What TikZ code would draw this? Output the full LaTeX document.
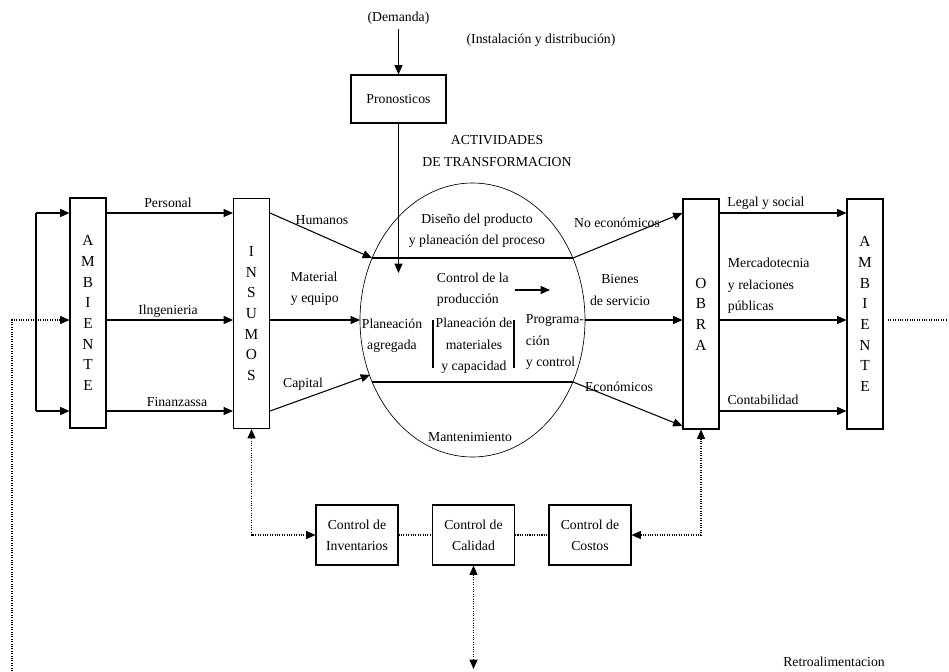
\documentclass[tikz,border=0pt]{standalone}
\usepackage{fontspec}
\setmainfont{Liberation Serif}
\usetikzlibrary{arrows.meta,shapes.geometric}
\tikzset{
  caja/.style={draw, line width=0.8pt, align=center, inner sep=1pt},
  letras/.style={caja, minimum width=27pt, minimum height=172.5pt, font=\fontsize{11.5}{15.5}\selectfont},
  control/.style={caja, minimum width=61.5pt, minimum height=45pt},
  retro/.style={densely dotted, line width=0.8pt},
}
\begin{document}
\begin{tikzpicture}[x=0.75pt, y=-0.75pt, line width=0.8pt,
    font=\fontsize{10.3}{16}\selectfont, >={Triangle[length=7pt,width=6pt]}]
  \useasboundingbox (0,0) rectangle (949,671);
  % Rows of the arrows
  \coordinate (r1) at (0,213);
  \coordinate (r2) at (0,320);
  \coordinate (r3) at (0,411);
  \coordinate (r4) at (0,426);
  % Ambiente and insumos
  \node[letras] (amb1) at (88,313) {A\\M\\B\\I\\E\\N\\T\\E};
  \node[letras] (ins) at (251.5,313.5) {I\\N\\S\\U\\M\\O\\S};
  \draw[->] (amb1.east |- r1) -- (ins.west |- r1);
  \draw[->] (amb1.east |- r2) -- (ins.west |- r2);
  \draw[->] (amb1.east |- r3) -- (ins.west |- r3);
  \node (per) at (168,203) {Personal};
  \node (ing) at (168,311) {Ilngenieria};
  \node (fin) at (177,402) {Finanzassa};
  % Bracket on the left
  \coordinate (fb) at (36,0);
  \draw[->] (fb |- r1) -- (amb1.west |- r1);
  \draw[->] (fb |- r3) -- (amb1.west |- r3);
  \draw (fb |- r1) -- (fb |- r3);
  % Demand and forecast
  \node (dem) at (398.5,18) {(Demanda)};
  \node[caja, minimum width=71.25pt, minimum height=36pt] (pron) at (398.5,99) {Pronosticos};
  \draw[->] (dem) -- (pron);
  \node (ins2) at (541,40) {(Instalación y distribución)};
  \node[align=center] (act) at (497,151) {ACTIVIDADES\\DE TRANSFORMACION};
  % Transformation activities
  \node[ellipse, draw, line width=0.5pt, minimum width=168.75pt, minimum height=205.5pt,
    inner sep=0pt, outer sep=0pt] (trans) at (472.5,320) {};
  \coordinate (ul) at (372,258);
  \coordinate (ur) at (573,258);
  \coordinate (ll) at (372,382);
  \coordinate (lr) at (573,382);
  \coordinate (cp) at (370,375);
  \draw (ul) -- (ur);
  \draw (ll) -- (lr);
  \coordinate (pa) at (398.5,273);
  \draw[->] (pron) -- (pa);
  \node[align=center] (dis) at (477,231) {Diseño del producto\\y planeación del proceso};
  \node[align=left, anchor=west] (ctl) at (432,290) {Control de la\\producción};
  \coordinate (ca) at (515,290);
  \coordinate (cb) at (550,290);
  \draw[->] (ca) -- (cb);
  \node[align=center] (pag) at (392,336) {Planeación\\agregada};
  \draw (433,320) -- (433,368);
  \node[align=center] (pmc) at (474,346) {Planeación de\\materiales\\y capacidad};
  \draw (514,320) -- (514,368);
  \node[align=left, anchor=west] (prg) at (521,342) {Programa-\\ción\\y control};
  \node (man) at (470,437) {Mantenimiento};
  % Inputs into the process
  \draw[->] (ins.east |- r1) -- (ul);
  \draw[->] (ins.east |- r2) -- (trans.west);
  \draw[->] (ins.east |- r3) -- (cp);
  \node (hum) at (322,220) {Humanos};
  \node[align=left, anchor=west] (mat) at (286,289) {Material\\y equipo};
  \node (cap) at (303,384) {Capital};
  % Obra and ambiente
  \node[letras] (obra) at (701,314) {O\\B\\R\\A};
  \node[letras] (amb2) at (865,314) {A\\M\\B\\I\\E\\N\\T\\E};
  \draw[->] (ur) -- (obra.west |- r1);
  \draw[->] (trans.east) -- (obra.west |- r2);
  \draw[->] (lr) -- (obra.west |- r4);
  \node (noe) at (617,223) {No económicos};
  \node[align=center] (bie) at (620,290) {Bienes\\de servicio};
  \node (eco) at (619,387) {Económicos};
  \draw[->] (obra.east |- r1) -- (amb2.west |- r1);
  \draw[->] (obra.east |- r2) -- (amb2.west |- r2);
  \draw[->] (obra.east |- r3) -- (amb2.west |- r3);
  \node (leg) at (766,203) {Legal y social};
  \node[align=left, anchor=west] (mer) at (723,286) {Mercadotecnia\\y relaciones\\públicas};
  \node (con) at (763,400) {Contabilidad};
  % Controls
  \node[control] (inv) at (357,535) {Control de\\Inventarios};
  \node[control] (cal) at (473.5,535) {Control de\\Calidad};
  \node[control] (cos) at (590,535) {Control de\\Costos};
  \draw[retro, <->] (ins.south) |- (inv.west);
  \draw[retro] (inv) -- (cal);
  \draw[retro] (cal) -- (cos);
  \draw[retro, <->] (obra.south) |- (cos.east);
  \coordinate (qa) at (473.5,669);
  \draw[retro, <->] (cal.south) -- (qa);
  % Feedback
  \coordinate (rb) at (12,671);
  \draw[retro, ->] (rb) |- (amb1.west |- r2);
  \coordinate (rs) at (888,320);
  \coordinate (re) at (947,320);
  \draw[retro] (rs) -- (re);
  \node (ret) at (834,662) {Retroalimentacion};
\end{tikzpicture}
\end{document}
